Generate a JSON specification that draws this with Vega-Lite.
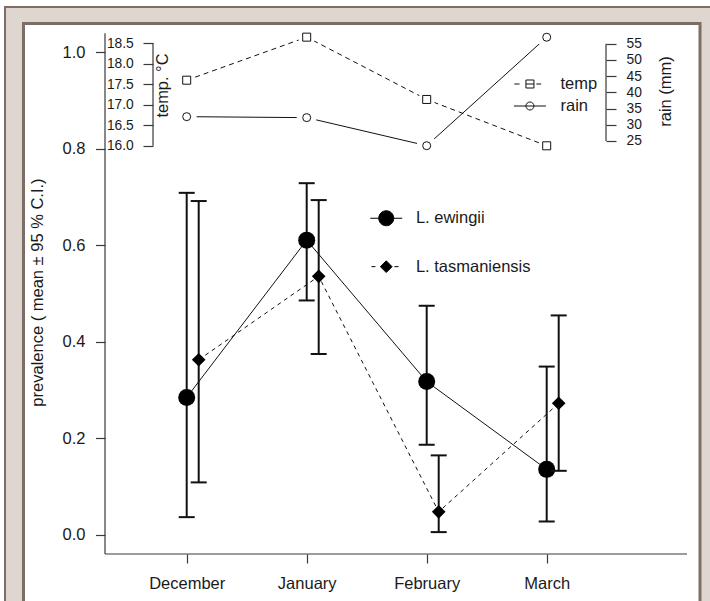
{
  "$schema": "https://vega.github.io/schema/vega-lite/v6.json",
  "width": 676,
  "height": 577,
  "autosize": {"type": "none"},
  "padding": {"left": 24, "top": 24, "right": 10, "bottom": 0},
  "background": "white",
  "config": {
    "view": {"stroke": null},
    "font": "Liberation Sans",
    "axis": {
      "grid": false, "domain": false, "zindex": 1,
      "labelFont": "Liberation Sans", "titleFont": "Liberation Sans",
      "labelColor": "#1a1a1a", "titleColor": "#1a1a1a",
      "tickColor": "#3a3a3a", "tickWidth": 1.2,
      "titleFontWeight": "normal", "labelOverlap": false
    },
    "legend": {"labelFont": "Liberation Sans", "labelColor": "#1a1a1a", "zindex": 1}
  },
  "datasets": {
    "ewingii": [
      {"month": "December", "m": 1, "mean": 0.285, "lo": 0.037, "hi": 0.709},
      {"month": "January", "m": 2, "mean": 0.611, "lo": 0.486, "hi": 0.729},
      {"month": "February", "m": 3, "mean": 0.318, "lo": 0.187, "hi": 0.475},
      {"month": "March", "m": 4, "mean": 0.136, "lo": 0.028, "hi": 0.349}
    ],
    "tasmaniensis": [
      {"month": "December", "m": 1, "mean": 0.363, "lo": 0.109, "hi": 0.692},
      {"month": "January", "m": 2, "mean": 0.536, "lo": 0.375, "hi": 0.694},
      {"month": "February", "m": 3, "mean": 0.048, "lo": 0.006, "hi": 0.165},
      {"month": "March", "m": 4, "mean": 0.273, "lo": 0.133, "hi": 0.455}
    ],
    "climate": [
      {"month": "December", "m": 1, "temp": 17.6, "rain": 32.5},
      {"month": "January", "m": 2, "temp": 18.65, "rain": 32.2},
      {"month": "February", "m": 3, "temp": 17.13, "rain": 23.55},
      {"month": "March", "m": 4, "temp": 16.0, "rain": 57.0}
    ],
    "one": [{}]
  },
  "layer": [
    {
      "layer": [
        {
          "data": {"name": "one"},
          "mark": {"type": "rect", "fill": "#dfd7cf", "stroke": "#7c6e67", "strokeWidth": 2, "clip": false},
          "encoding": {
            "x": {"datum": -0.51417, "type": "quantitative",
              "scale": {"domain": [-0.35583, 5.2775], "nice": false, "zero": false},
              "axis": {"orient": "bottom", "offset": -47, "values": [1, 2, 3, 4], "zindex": 2,
                "labelExpr": "['December','January','February','March'][datum.value - 1]",
                "tickSize": 9, "labelPadding": 12, "labelFontSize": 16.5, "title": null}},
            "x2": {"datum": 5.4025},
            "y": {"datum": 1.09408, "type": "quantitative",
              "scale": {"domain": [-0.13676, 1.05885], "nice": false, "zero": false},
              "axis": {"orient": "left", "offset": -81, "values": [0, 0.2, 0.4, 0.6, 0.8, 1.0], "format": ".1f", "zindex": 2,
                "tickSize": 9.5, "labelPadding": 10.5, "labelFontSize": 16.5,
                "title": "prevalence ( mean ± 95 % C.I.)", "titleFontSize": 16.5,
                "titleX": -67.5, "titleY": 268, "titleAngle": 270, "titleBaseline": "middle", "titleAlign": "center"}},
            "y2": {"datum": -0.15541}
          }
        },
        {
          "data": {"name": "one"},
          "mark": {"type": "rect", "fill": "white", "stroke": "#7c6e67", "strokeWidth": 3, "clip": false},
          "encoding": {
            "x": {"datum": -0.36, "type": "quantitative"},
            "x2": {"datum": 5.2775},
            "y": {"datum": 1.05989, "type": "quantitative"},
            "y2": {"datum": -0.15541}
          }
        },
        {
          "data": {"name": "one"},
          "mark": {"type": "rule", "color": "#3a3a3a", "strokeWidth": 1.2, "clip": false},
          "encoding": {
            "x": {"datum": 0.31917, "type": "quantitative"},
            "y": {"datum": -0.03937, "type": "quantitative"},
            "y2": {"datum": 1.0396}
          }
        },
        {
          "data": {"name": "one"},
          "mark": {"type": "rule", "color": "#3a3a3a", "strokeWidth": 1.2, "clip": false},
          "encoding": {
            "x": {"datum": 0.31917, "type": "quantitative"},
            "x2": {"datum": 5.16917},
            "y": {"datum": -0.03937, "type": "quantitative"}
          }
        },
        {
          "data": {"name": "ewingii"},
          "mark": {"type": "line", "color": "#111", "strokeWidth": 1},
          "encoding": {
            "x": {"field": "m", "type": "quantitative"},
            "y": {"field": "mean", "type": "quantitative"}
          }
        },
        {
          "data": {"name": "ewingii"},
          "mark": {"type": "rule", "color": "#111", "strokeWidth": 2},
          "encoding": {
            "x": {"field": "m", "type": "quantitative"},
            "y": {"field": "lo", "type": "quantitative"},
            "y2": {"field": "hi"}
          }
        },
        {
          "data": {"name": "ewingii"},
          "mark": {"type": "tick", "orient": "horizontal", "color": "#111", "thickness": 2, "size": 16, "opacity": 1},
          "encoding": {
            "x": {"field": "m", "type": "quantitative"},
            "y": {"field": "lo", "type": "quantitative"}
          }
        },
        {
          "data": {"name": "ewingii"},
          "mark": {"type": "tick", "orient": "horizontal", "color": "#111", "thickness": 2, "size": 16, "opacity": 1},
          "encoding": {
            "x": {"field": "m", "type": "quantitative"},
            "y": {"field": "hi", "type": "quantitative"}
          }
        },
        {
          "data": {"name": "ewingii"},
          "mark": {"type": "point", "shape": "circle", "filled": true, "size": 289, "opacity": 1},
          "encoding": {
            "x": {"field": "m", "type": "quantitative"},
            "y": {"field": "mean", "type": "quantitative"},
            "color": {"datum": "L. ewingii", "type": "nominal",
              "scale": {"domain": ["L. ewingii"], "range": ["#000000"]},
              "legend": {"orient": "none", "legendX": 354, "legendY": 186, "title": null, "padding": 0, "zindex": 2,
                "labelFontSize": 16.5, "labelOffset": 21.4, "symbolSize": 225,
                "symbolType": "M-2.13,0L2.13,0M1,0A1,1,0,1,1,-1,0A1,1,0,1,1,1,0Z",
                "symbolStrokeColor": "#000000", "symbolStrokeWidth": 1, "symbolOpacity": 1}}
          }
        }
      ]
    },
    {
      "layer": [
        {
          "data": {"name": "tasmaniensis"},
          "mark": {"type": "line", "color": "#111", "strokeWidth": 1, "strokeDash": [4, 4], "xOffset": 12},
          "encoding": {
            "x": {"field": "m", "type": "quantitative"},
            "y": {"field": "mean", "type": "quantitative",
              "scale": {"domain": [-0.13676, 1.05885], "nice": false, "zero": false}, "axis": null}
          }
        },
        {
          "data": {"name": "tasmaniensis"},
          "mark": {"type": "rule", "color": "#111", "strokeWidth": 2, "xOffset": 12},
          "encoding": {
            "x": {"field": "m", "type": "quantitative"},
            "y": {"field": "lo", "type": "quantitative"},
            "y2": {"field": "hi"}
          }
        },
        {
          "data": {"name": "tasmaniensis"},
          "mark": {"type": "tick", "orient": "horizontal", "color": "#111", "thickness": 2, "size": 16, "opacity": 1, "xOffset": 12},
          "encoding": {
            "x": {"field": "m", "type": "quantitative"},
            "y": {"field": "lo", "type": "quantitative"}
          }
        },
        {
          "data": {"name": "tasmaniensis"},
          "mark": {"type": "tick", "orient": "horizontal", "color": "#111", "thickness": 2, "size": 16, "opacity": 1, "xOffset": 12},
          "encoding": {
            "x": {"field": "m", "type": "quantitative"},
            "y": {"field": "hi", "type": "quantitative"}
          }
        },
        {
          "data": {"name": "tasmaniensis"},
          "mark": {"type": "point", "shape": "diamond", "filled": true, "size": 185, "opacity": 1, "xOffset": 12},
          "encoding": {
            "x": {"field": "m", "type": "quantitative"},
            "y": {"field": "mean", "type": "quantitative"},
            "color": {"datum": "L. tasmaniensis", "type": "nominal",
              "scale": {"domain": ["L. tasmaniensis"], "range": ["#000000"]},
              "legend": {"orient": "none", "legendX": 354, "legendY": 234.4, "title": null, "padding": 0, "zindex": 2,
                "labelFontSize": 16.5, "labelOffset": 21.4, "symbolSize": 225,
                "symbolType": "M-1.97,0L-1.44,0M1.09,0L1.63,0M-0.78,0L0,-0.78L0.78,0L0,0.78Z",
                "symbolStrokeColor": "#000000", "symbolStrokeWidth": 1, "symbolOpacity": 1}}
          }
        }
      ]
    },
    {
      "layer": [
        {
          "data": {"name": "one"},
          "mark": {"type": "rule", "color": "#3a3a3a", "strokeWidth": 1.2},
          "encoding": {
            "x": {"datum": 0.7192, "type": "quantitative"},
            "y": {"datum": 16, "type": "quantitative",
              "scale": {"domain": [4.8975, 18.9707], "nice": false, "zero": false},
              "axis": {"orient": "left", "offset": -129, "values": [16, 16.5, 17, 17.5, 18, 18.5], "format": ".1f", "zindex": 2,
                "tickSize": 10, "labelPadding": 9.7, "labelFontSize": 13.8,
                "title": "temp. °C", "titleFontSize": 16.4, "titleX": 9.5, "titleY": 61,
                "titleAngle": 270, "titleBaseline": "middle", "titleAlign": "center"}},
            "y2": {"datum": 18.5}
          }
        },
        {
          "data": {"name": "climate"},
          "mark": {"type": "line", "color": "#111", "strokeWidth": 1, "strokeDash": [5, 4]},
          "encoding": {
            "x": {"field": "m", "type": "quantitative"},
            "y": {"field": "temp", "type": "quantitative"}
          }
        },
        {
          "data": {"name": "climate"},
          "mark": {"type": "point", "shape": "circle", "filled": true, "color": "white", "size": 289, "opacity": 1},
          "encoding": {
            "x": {"field": "m", "type": "quantitative"},
            "y": {"field": "temp", "type": "quantitative"}
          }
        },
        {
          "data": {"name": "climate"},
          "mark": {"type": "point", "shape": "square", "filled": false, "strokeWidth": 1, "size": 64, "opacity": 1},
          "encoding": {
            "x": {"field": "m", "type": "quantitative"},
            "y": {"field": "temp", "type": "quantitative"},
            "color": {"datum": "temp", "type": "nominal",
              "scale": {"domain": ["temp"], "range": ["#111111"]},
              "legend": {"orient": "none", "legendX": 497.7, "legendY": 51.75, "title": null, "padding": 0, "zindex": 2,
                "labelFontSize": 16.5, "labelOffset": 22.3, "symbolSize": 64,
                "symbolType": "M-3.9,0L-2.6,0M1.6,0L2.8,0M-1,-1L1,-1L1,1L-1,1ZM-1,0L1,0",
                "symbolFillColor": "transparent", "symbolStrokeWidth": 1, "symbolOpacity": 1}}
          }
        }
      ]
    },
    {
      "layer": [
        {
          "data": {"name": "one"},
          "mark": {"type": "rule", "color": "#3a3a3a", "strokeWidth": 1.2},
          "encoding": {
            "x": {"datum": 4.4942, "type": "quantitative"},
            "y": {"datum": 25, "type": "quantitative",
              "scale": {"domain": [-116.85, 61.075], "nice": false, "zero": false},
              "axis": {"orient": "right", "offset": -94, "values": [25, 30, 35, 40, 45, 50, 55], "format": "d", "zindex": 2,
                "tickSize": 10, "labelPadding": 10, "labelFontSize": 13.8,
                "title": "rain (mm)", "titleFontSize": 16.5, "titleX": 59, "titleY": 67,
                "titleAngle": 270, "titleBaseline": "middle", "titleAlign": "center"}},
            "y2": {"datum": 55}
          }
        },
        {
          "data": {"name": "climate"},
          "mark": {"type": "line", "color": "#111", "strokeWidth": 1},
          "encoding": {
            "x": {"field": "m", "type": "quantitative"},
            "y": {"field": "rain", "type": "quantitative"}
          }
        },
        {
          "data": {"name": "climate"},
          "mark": {"type": "point", "shape": "circle", "filled": true, "color": "white", "size": 400, "opacity": 1},
          "encoding": {
            "x": {"field": "m", "type": "quantitative"},
            "y": {"field": "rain", "type": "quantitative"}
          }
        },
        {
          "data": {"name": "climate"},
          "mark": {"type": "point", "shape": "circle", "filled": false, "strokeWidth": 1, "size": 64, "opacity": 1},
          "encoding": {
            "x": {"field": "m", "type": "quantitative"},
            "y": {"field": "rain", "type": "quantitative"},
            "color": {"datum": "rain", "type": "nominal",
              "scale": {"domain": ["rain"], "range": ["#111111"]},
              "legend": {"orient": "none", "legendX": 497.7, "legendY": 73.75, "title": null, "padding": 0, "zindex": 2,
                "labelFontSize": 16.5, "labelOffset": 22.3, "symbolSize": 64,
                "symbolType": "M-4,0L4,0M1,0A1,1,0,1,1,-1,0A1,1,0,1,1,1,0Z",
                "symbolFillColor": "transparent", "symbolStrokeWidth": 1, "symbolOpacity": 1}}
          }
        }
      ]
    }
  ],
  "resolve": {
    "scale": {"y": "independent", "color": "independent"},
    "axis": {"y": "independent"},
    "legend": {"color": "independent"}
  }
}
